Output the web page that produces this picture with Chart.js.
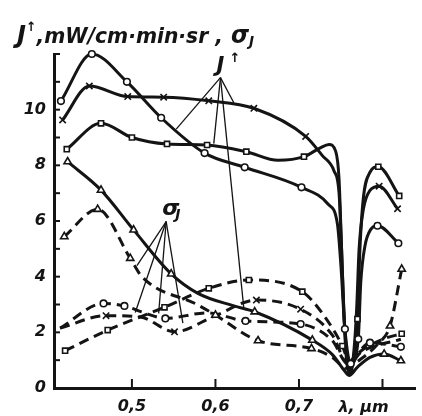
<!DOCTYPE html>
<html><head><meta charset="utf-8">
<script src="https://cdn.jsdelivr.net/npm/chart.js@4.4.1/dist/chart.umd.min.js"></script>
<style>html,body{margin:0;padding:0;background:#fff;}canvas{display:block;}</style>
</head><body>
<canvas id="c" width="422" height="416"></canvas>
<script>
// ---- axis ticks ----
const xTicks = [0.5, 0.6, 0.7, 0.8];
const xTickLabels = ['0,5', '0,6', '0,7', ''];
const yTicks = [0,1,2,3,4,5,6,7,8,9,10,11,12];
const yTickLabels = ['0','','2','','4','','6','','8','','10','',''];

// ---- J↑ (solid) : measured points (markers) and extra curve-shape points ----
const jCircleMarks = [[0.415,10.31],[0.452,12.0],[0.494,11.0],[0.535,9.71],[0.587,8.44],[0.635,7.93],[0.703,7.21],[0.755,2.12],[0.762,0.87],[0.771,1.76],[0.794,5.83],[0.819,5.2]];
const jCircleShape = [[0.735,6.6],[0.746,5.9],[0.750,4.5],[0.774,3.8],[0.779,5.1],[0.786,5.7]];
const jCrossMarks = [[0.417,9.63],[0.449,10.85],[0.495,10.47],[0.538,10.45],[0.592,10.32],[0.646,10.05],[0.708,9.04],[0.796,7.25],[0.818,6.44]];
const jCrossShape = [[0.728,8.35],[0.742,7.8],[0.748,7.0],[0.751,5.0],[0.754,2.6],[0.758,1.0],[0.761,0.6],[0.765,1.1],[0.769,2.8],[0.772,5.0],[0.777,6.4],[0.785,7.1]];
const jSquareMarks = [[0.422,8.58],[0.463,9.51],[0.5,9.0],[0.542,8.77],[0.59,8.73],[0.637,8.49],[0.706,8.31],[0.77,2.48],[0.795,7.95],[0.82,6.9]];
const jSquareShape = [[0.675,8.18],[0.725,8.62],[0.736,8.75],[0.744,8.5],[0.748,7.5],[0.751,5.0],[0.754,2.5],[0.757,1.0],[0.761,0.5],[0.766,1.2],[0.773,5.0],[0.777,6.8],[0.785,7.75]];
const jTriMarks = [[0.423,8.13],[0.463,7.11],[0.502,5.68],[0.547,4.1],[0.647,2.74],[0.716,1.72],[0.802,1.22],[0.822,0.98]];
const jTriShape = [[0.579,3.4],[0.622,2.95],[0.74,1.2],[0.755,0.6],[0.760,0.45],[0.770,0.75],[0.785,1.1]];

// ---- σJ (dashed) ----
const sTriMarks = [[0.419,5.44],[0.459,6.42],[0.498,4.66],[0.6,2.62],[0.651,1.70],[0.715,1.42],[0.809,2.23],[0.823,4.27]];
const sTriShape = [[0.512,4.0],[0.578,3.0],[0.74,1.1],[0.757,0.7],[0.77,0.95],[0.795,1.6]];
const sCircleMarks = [[0.466,3.04],[0.491,2.95],[0.54,2.5],[0.636,2.41],[0.702,2.3],[0.785,1.63],[0.822,1.48]];
const sCircleShape = [[0.414,2.15],[0.515,2.7],[0.59,2.7],[0.74,1.7],[0.758,0.9],[0.77,1.25]];
const sCrossMarks = [[0.469,2.6],[0.551,2.02],[0.649,3.16],[0.702,2.83]];
const sCrossShape = [[0.414,2.15],[0.51,2.55],[0.6,2.6],[0.74,1.9],[0.759,0.85],[0.775,1.3],[0.822,1.75]];
const sSquareMarks = [[0.42,1.34],[0.471,2.08],[0.539,2.9],[0.592,3.58],[0.640,3.88],[0.704,3.46],[0.752,1.51],[0.823,1.95]];
const sSquareShape = [[0.73,2.6],[0.760,0.95],[0.775,1.35],[0.80,1.75]];

// ---- label pointer lines ----
const jPointerApex = [0.606, 11.15];
const jPointerEnds = [[0.553,9.3],[0.598,8.78],[0.622,10.25],[0.634,2.85]];
const sPointerApex = [0.541, 5.98];
const sPointerEnds = [[0.506,4.4],[0.504,2.71],[0.532,2.68],[0.561,2.33]];

const INK = '#141414';
const FONT = "'DejaVu Sans'";
const toXY = a => a.map(p => ({x: p[0], y: p[1]}));
const curve = (m, s) => toXY([...m, ...s].sort((a, b) => a[0] - b[0]));

const series = [
  {m: jCircleMarks, s: jCircleShape, style: 'circle', dash: false, r: 3.3},
  {m: jCrossMarks, s: jCrossShape, style: 'crossRot', dash: false, r: 4.5},
  {m: jSquareMarks, s: jSquareShape, style: 'rect', dash: false, r: 3.6},
  {m: jTriMarks, s: jTriShape, style: 'triangle', dash: false, r: 4.2},
  {m: sTriMarks, s: sTriShape, style: 'triangle', dash: true, r: 4.2},
  {m: sCircleMarks, s: sCircleShape, style: 'circle', dash: true, r: 3.3},
  {m: sCrossMarks, s: sCrossShape, style: 'crossRot', dash: true, r: 4.5},
  {m: sSquareMarks, s: sSquareShape, style: 'rect', dash: true, r: 3.6}
];

const datasets = [];
series.forEach(sr => {
  datasets.push({
    data: curve(sr.m, sr.s), borderColor: INK, borderWidth: 3,
    borderDash: sr.dash ? [10, 6] : [], pointRadius: 0,
    cubicInterpolationMode: 'monotone', fill: false, order: 3, clip: false,
    borderCapStyle: 'butt'
  });
  datasets.push({
    data: toXY(sr.m), showLine: false, pointStyle: sr.style, pointRadius: sr.r,
    pointBackgroundColor: '#fff', pointBorderColor: INK, pointBorderWidth: 1.6,
    order: 1, clip: false
  });
});
[[jPointerApex, jPointerEnds], [sPointerApex, sPointerEnds]].forEach(([apex, ends]) => {
  ends.forEach(e => datasets.push({
    data: toXY([apex, e]), borderColor: INK, borderWidth: 1.3, pointRadius: 0,
    tension: 0, order: 2, clip: false
  }));
});

const inkPlugin = {
  id: 'ink',
  afterDraw(chart) {
    const {ctx, chartArea: a, scales: {x, y}} = chart;
    ctx.save();
    ctx.strokeStyle = INK; ctx.fillStyle = INK; ctx.lineWidth = 2;
    yTicks.forEach(v => { const py = y.getPixelForValue(v); ctx.beginPath(); ctx.moveTo(a.left, py); ctx.lineTo(a.left + 6, py); ctx.stroke(); });
    xTicks.forEach(v => { const px = x.getPixelForValue(v); ctx.beginPath(); ctx.moveTo(px, a.bottom); ctx.lineTo(px, a.bottom - 9); ctx.stroke(); });
    ctx.textBaseline = 'alphabetic';
    // y-axis title
    const parts = [
      ['J', 25, 0], ['↑', 13, -12], [',mW/cm·min·sr ,', 21, 0], [' σ', 24, 0], ['J', 14, 3]
    ];
    let w = 0;
    parts.forEach(p => { ctx.font = `bold italic ${p[1]}px ${FONT}`; w += ctx.measureText(p[0]).width; });
    const sx = (254 - 17) / w;
    ctx.save(); ctx.translate(17, 43); ctx.scale(sx, 1);
    let cx = 0;
    parts.forEach(p => { ctx.font = `bold italic ${p[1]}px ${FONT}`; ctx.fillText(p[0], cx, p[2]); cx += ctx.measureText(p[0]).width; });
    ctx.restore();
    // J↑ label
    const jx = x.getPixelForValue(jPointerApex[0]) - 4, jy = y.getPixelForValue(jPointerApex[1]) - 6;
    ctx.font = `bold italic 21px ${FONT}`; ctx.fillText('J', jx, jy);
    ctx.font = `bold italic 13px ${FONT}`; ctx.fillText('↑', jx + 13, jy - 10);
    // σJ label
    const sxp = x.getPixelForValue(sPointerApex[0]) - 4, syp = y.getPixelForValue(sPointerApex[1]) - 7;
    ctx.font = `bold italic 22px ${FONT}`; ctx.fillText('σ', sxp, syp);
    ctx.font = `bold italic 14px ${FONT}`; ctx.fillText('J', sxp + 13, syp + 4);
    // x unit label
    ctx.font = `bold italic 16px ${FONT}`; ctx.textAlign = 'center';
    ctx.fillText('λ, μm', x.getPixelForValue(0.8) - 19, 412);
    ctx.restore();
  }
};

new Chart(document.getElementById('c'), {
  type: 'line',
  data: {datasets},
  options: {
    responsive: false, animation: false, events: [],
    layout: {padding: {top: 54, right: 0, bottom: 0, left: 0}},
    plugins: {legend: {display: false}, tooltip: {enabled: false}},
    scales: {
      x: {
        type: 'linear', min: 0.4067, max: 0.84,
        afterBuildTicks: s => { s.ticks = xTicks.map(v => ({value: v})); },
        afterFit: s => { s.height = 28; },
        ticks: {callback: (v, i) => xTickLabels[i], color: INK, padding: 9, maxRotation: 0, autoSkip: false,
                font: {family: FONT, style: 'italic', weight: 'bold', size: 16}},
        grid: {display: false, drawTicks: false},
        border: {display: true, color: INK, width: 3}
      },
      y: {
        type: 'linear', min: 0, max: 12,
        afterBuildTicks: s => { s.ticks = yTicks.map(v => ({value: v})); },
        afterFit: s => { s.width = 54; },
        ticks: {callback: (v, i) => yTickLabels[i], color: INK, padding: 8, autoSkip: false,
                font: {family: FONT, style: 'italic', weight: 'bold', size: 16}},
        grid: {display: false, drawTicks: false},
        border: {display: true, color: INK, width: 3}
      }
    }
  },
  plugins: [inkPlugin]
});
</script>
</body></html>
